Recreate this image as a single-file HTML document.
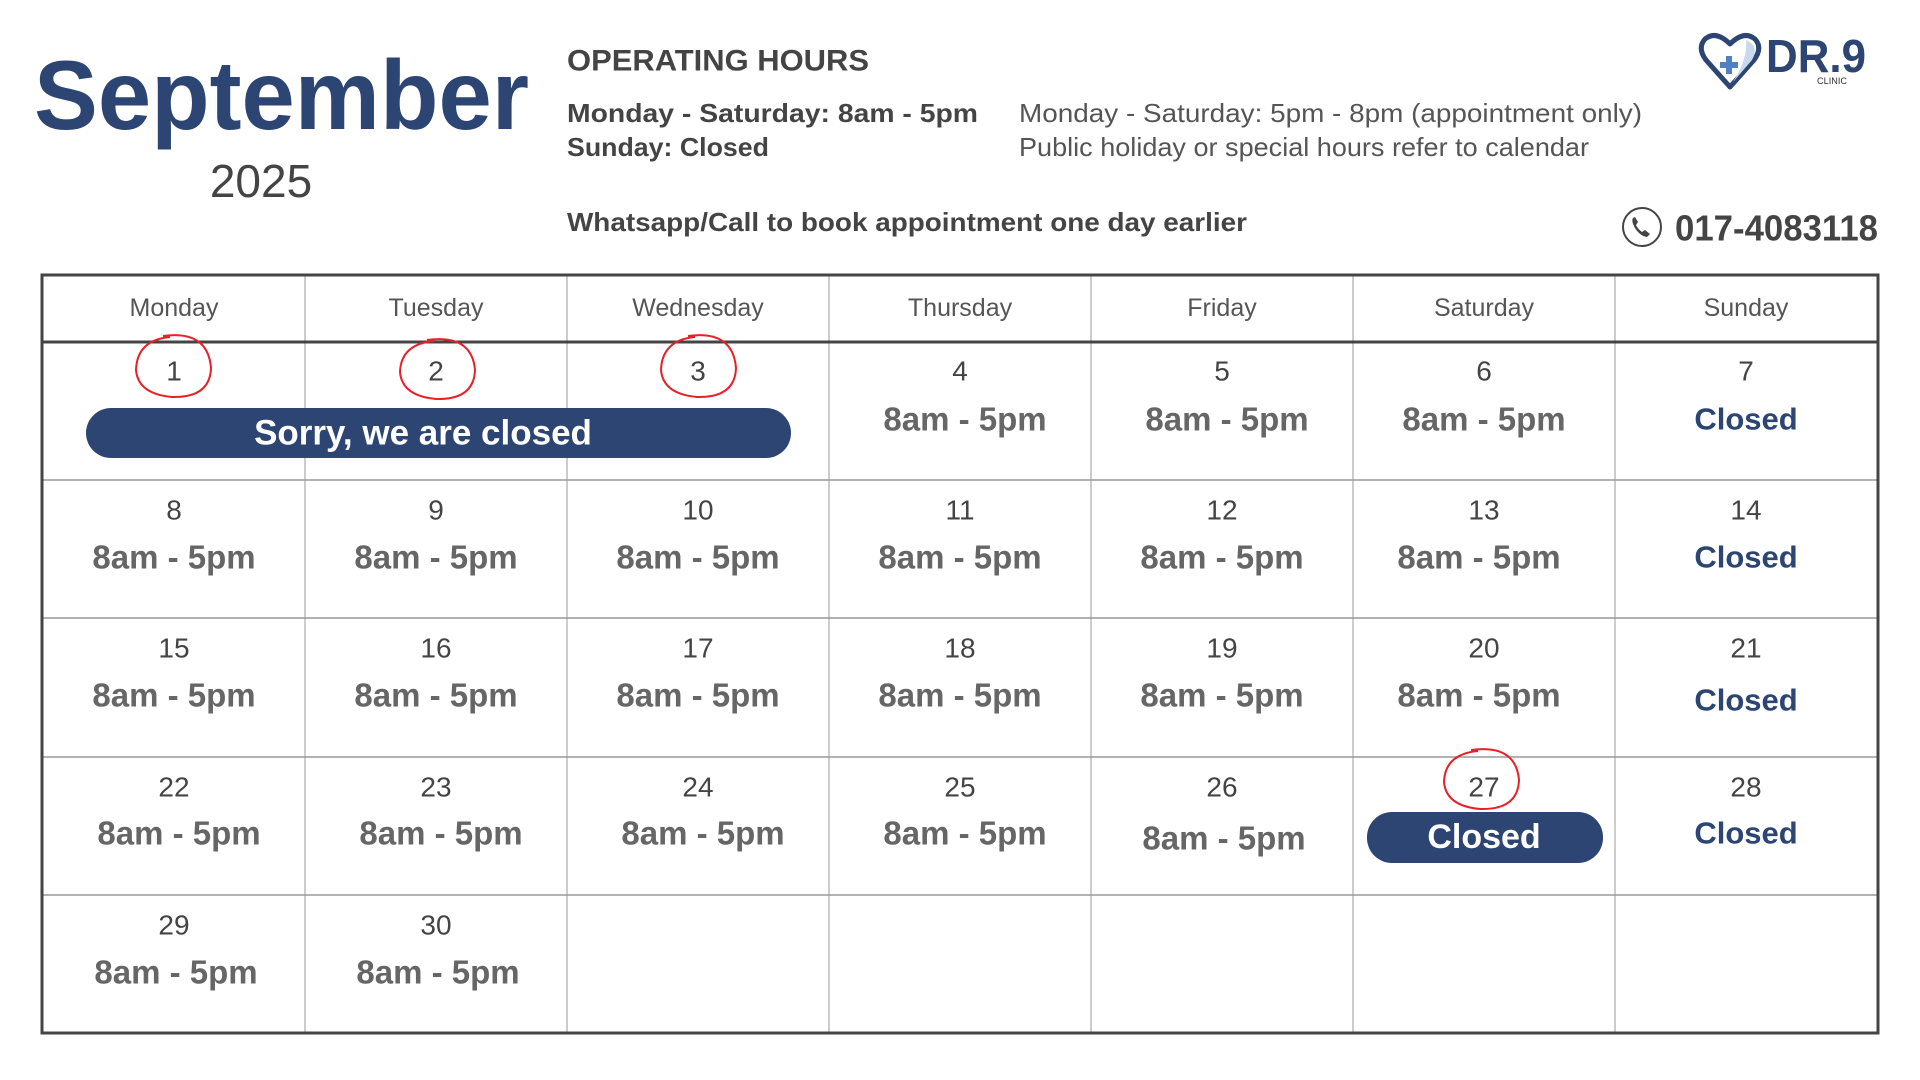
<!DOCTYPE html>
<html><head><meta charset="utf-8"><style>html,body{margin:0;padding:0;background:#fff}svg{display:block}</style></head>
<body>
<svg width="1920" height="1080" viewBox="0 0 1920 1080" xmlns="http://www.w3.org/2000/svg" font-family="Liberation Sans, sans-serif">
<rect width="1920" height="1080" fill="#fff"/>
<text x="34" y="129" font-size="98" font-weight="bold" fill="#2d4572" textLength="495" lengthAdjust="spacingAndGlyphs">September</text>
<text x="261" y="181" font-size="46" fill="#444" text-anchor="middle" dominant-baseline="central">2025</text>
<g fill="#444" dominant-baseline="central">
<text x="567" y="61" font-size="30" font-weight="bold" textLength="302" lengthAdjust="spacingAndGlyphs">OPERATING HOURS</text>
<text x="567" y="113" font-size="26" font-weight="bold" textLength="411" lengthAdjust="spacingAndGlyphs">Monday - Saturday: 8am - 5pm</text>
<text x="567" y="147" font-size="26" font-weight="bold" textLength="202" lengthAdjust="spacingAndGlyphs">Sunday: Closed</text>
<text x="1019" y="113" font-size="26" fill="#555" textLength="623" lengthAdjust="spacingAndGlyphs">Monday - Saturday: 5pm - 8pm (appointment only)</text>
<text x="1019" y="147" font-size="26" fill="#555" textLength="570" lengthAdjust="spacingAndGlyphs">Public holiday or special hours refer to calendar</text>
<text x="567" y="222" font-size="26" font-weight="bold" textLength="680" lengthAdjust="spacingAndGlyphs">Whatsapp/Call to book appointment one day earlier</text>
<text x="1675" y="228" font-size="36" font-weight="bold" textLength="203" lengthAdjust="spacingAndGlyphs">017-4083118</text>
</g>
<circle cx="1642" cy="227" r="19" fill="none" stroke="#444" stroke-width="2"/>
<path d="M1633 218 q-2 3 2 10 q5 8 12 9 l3-3 -5-4 -3 2 q-4-3-6-7 l2-3 -3-5z" fill="#444"/>
<path d="M1730 87 L1706 60 Q1697 48 1705 39 Q1716 30 1730 44 Q1744 30 1755 39 Q1763 48 1754 60 Z" fill="#fff" stroke="#2d4572" stroke-width="5" stroke-linejoin="round"/>
<path d="M1746 40 Q1760 46 1752 60 L1733 82 Q1748 58 1746 40Z" fill="#c9d9ec"/>
<rect x="1726" y="56" width="6" height="18" fill="#4f7fc4"/><rect x="1720" y="62" width="18" height="6" fill="#4f7fc4"/>
<text x="1766" y="72" font-size="46" font-weight="bold" fill="#2d4572" textLength="100" lengthAdjust="spacingAndGlyphs">DR.9</text>
<text x="1817" y="84" font-size="9" fill="#333" textLength="30" lengthAdjust="spacingAndGlyphs">CLINIC</text>
<g stroke="#bbb" stroke-width="1.5">
<line x1="305" y1="275" x2="305" y2="1033"/><line x1="567" y1="275" x2="567" y2="1033"/>
<line x1="829" y1="275" x2="829" y2="1033"/><line x1="1091" y1="275" x2="1091" y2="1033"/>
<line x1="1353" y1="275" x2="1353" y2="1033"/><line x1="1615" y1="275" x2="1615" y2="1033"/>
<line x1="42" y1="480" x2="1878" y2="480" stroke="#999"/><line x1="42" y1="618" x2="1878" y2="618" stroke="#999"/>
<line x1="42" y1="757" x2="1878" y2="757" stroke="#999"/><line x1="42" y1="895" x2="1878" y2="895" stroke="#999"/>
</g>
<line x1="42" y1="342" x2="1878" y2="342" stroke="#444" stroke-width="3"/>
<rect x="42" y="275" width="1836" height="758" fill="none" stroke="#444" stroke-width="3"/>
<g font-size="25" fill="#555" text-anchor="middle" dominant-baseline="central">
<text x="174" y="308">Monday</text><text x="436" y="308">Tuesday</text><text x="698" y="308">Wednesday</text>
<text x="960" y="308">Thursday</text><text x="1222" y="308">Friday</text><text x="1484" y="308">Saturday</text><text x="1746" y="308">Sunday</text>
</g>
<g font-size="28" fill="#444" text-anchor="middle" dominant-baseline="central">
<text x="174" y="371">1</text><text x="436" y="371">2</text><text x="698" y="371">3</text><text x="960" y="371">4</text><text x="1222" y="371">5</text><text x="1484" y="371">6</text><text x="1746" y="371">7</text>
<text x="174" y="510">8</text><text x="436" y="510">9</text><text x="698" y="510">10</text><text x="960" y="510">11</text><text x="1222" y="510">12</text><text x="1484" y="510">13</text><text x="1746" y="510">14</text>
<text x="174" y="648">15</text><text x="436" y="648">16</text><text x="698" y="648">17</text><text x="960" y="648">18</text><text x="1222" y="648">19</text><text x="1484" y="648">20</text><text x="1746" y="648">21</text>
<text x="174" y="787">22</text><text x="436" y="787">23</text><text x="698" y="787">24</text><text x="960" y="787">25</text><text x="1222" y="787">26</text><text x="1484" y="787">27</text><text x="1746" y="787">28</text>
<text x="174" y="925">29</text><text x="436" y="925">30</text>
</g>
<g font-size="33" font-weight="bold" fill="#666" text-anchor="middle" dominant-baseline="central">
<text x="965" y="419">8am - 5pm</text><text x="1227" y="419">8am - 5pm</text><text x="1484" y="419">8am - 5pm</text>
<text x="174" y="557">8am - 5pm</text><text x="436" y="557">8am - 5pm</text><text x="698" y="557">8am - 5pm</text><text x="960" y="557">8am - 5pm</text><text x="1222" y="557">8am - 5pm</text><text x="1479" y="557">8am - 5pm</text>
<text x="174" y="695">8am - 5pm</text><text x="436" y="695">8am - 5pm</text><text x="698" y="695">8am - 5pm</text><text x="960" y="695">8am - 5pm</text><text x="1222" y="695">8am - 5pm</text><text x="1479" y="695">8am - 5pm</text>
<text x="179" y="833">8am - 5pm</text><text x="441" y="833">8am - 5pm</text><text x="703" y="833">8am - 5pm</text><text x="965" y="833">8am - 5pm</text><text x="1224" y="838">8am - 5pm</text>
<text x="176" y="972">8am - 5pm</text><text x="438" y="972">8am - 5pm</text>
</g>
<g font-size="31" font-weight="bold" fill="#2d4572" text-anchor="middle" dominant-baseline="central">
<text x="1746" y="419">Closed</text><text x="1746" y="557">Closed</text><text x="1746" y="700">Closed</text><text x="1746" y="833">Closed</text>
</g>
<rect x="86" y="408" width="705" height="50" rx="25" fill="#2d4572"/>
<text x="423" y="433" font-size="35" font-weight="bold" fill="#fff" text-anchor="middle" dominant-baseline="central">Sorry, we are closed</text>
<rect x="1367" y="812" width="236" height="51" rx="25" fill="#2d4572"/>
<text x="1484" y="837" font-size="34" font-weight="bold" fill="#fff" text-anchor="middle" dominant-baseline="central">Closed</text>
<g fill="none" stroke="#e8202a" stroke-width="2">
<path d="M163 336 Q208 330 211 368 Q210 398 172 397 Q138 394 136 370 Q137 340 170 337"/>
<path d="M427 340 Q472 334 475 370 Q474 400 436 399 Q402 396 400 372 Q401 344 434 341"/>
<path d="M688 336 Q733 330 736 368 Q735 398 697 397 Q663 394 661 370 Q662 340 695 337"/>
<path d="M1471 750 Q1516 744 1519 780 Q1518 810 1480 809 Q1446 806 1444 782 Q1445 754 1478 751"/>
</g>
</svg>
</body></html>
